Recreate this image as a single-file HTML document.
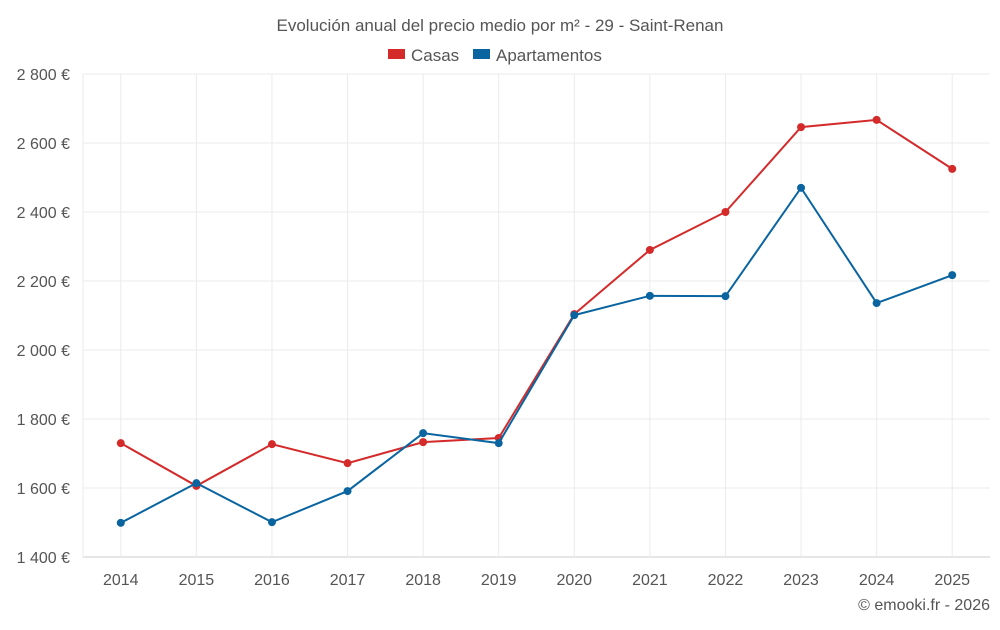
<!DOCTYPE html>
<html><head><meta charset="utf-8"><style>
body{margin:0;background:#fff;font-family:"Liberation Sans",sans-serif;}
svg text{font-family:"Liberation Sans",sans-serif;}
</style></head><body>
<svg id="c" width="1000" height="625">
<text x="500" y="31" text-anchor="middle" font-size="17" fill="#555">Evolución anual del precio medio por m² - 29 - Saint-Renan</text>
<g>
<g><rect x="388" y="49" width="17" height="10" fill="#d42a2a"/><text x="411" y="61" font-size="17" fill="#555">Casas</text></g>
<g><rect x="473" y="49" width="17" height="10" fill="#0a64a0"/><text x="496" y="61" font-size="17" fill="#555">Apartamentos</text></g>
</g>
<g id="grid"></g><g id="axes"></g><g id="series"></g>
<text x="990" y="610" text-anchor="end" font-size="16" fill="#555">© emooki.fr - 2026</text>
</svg>
<script>
const years=["2014","2015","2016","2017","2018","2019","2020","2021","2022","2023","2024","2025"];
const casas=[1730,1606,1727,1672,1733,1745,2104,2290,2400,2646,2667,2525];
const apartamentos=[1499,1614,1501,1591,1759,1730,2101,2157,2156,2470,2136,2217];
const yTicks=[1400,1600,1800,2000,2200,2400,2600,2800];
const yLabels=["1 400 €","1 600 €","1 800 €","2 000 €","2 200 €","2 400 €","2 600 €","2 800 €"];
const NS="http://www.w3.org/2000/svg";
const L=83,R=990,T=74,B=557,ymin=1400,ymax=2800;
const bw=(R-L)/years.length;
const x=i=>L+bw*(i+0.5);
const y=v=>B-(v-ymin)/(ymax-ymin)*(B-T);
function mk(t,a,p){const e=document.createElementNS(NS,t);for(const k in a)e.setAttribute(k,a[k]);p.appendChild(e);return e;}
const g=document.getElementById('grid'),ax=document.getElementById('axes'),s=document.getElementById('series');
yTicks.forEach((v,i)=>{
 const ln=mk('line',{x1:L,x2:R,y1:y(v),y2:y(v),stroke:i==0?'#ccc':'#ebebeb'},g);
 
 
 const t=mk('text',{x:70,y:y(v)+6,'text-anchor':'end','font-size':16,fill:'#555'},ax);
 t.textContent=yLabels[i];
 
 
});
years.forEach((yr,i)=>{
 const ln=mk('line',{x1:x(i),x2:x(i),y1:T,y2:B,stroke:'#ebebeb'},g);
 
 
 const t=mk('text',{x:x(i),y:585,'text-anchor':'middle','font-size':16,fill:'#555'},ax);
 t.textContent=yr;
 
 
});
mk('line',{x1:L,x2:L,y1:T,y2:B,stroke:'#ebebeb'},g);
function draw(d,c,n){
 const p=mk('polyline',{points:d.map((v,i)=>x(i)+','+y(v)).join(' '),fill:'none',stroke:c,'stroke-width':2},s);
 
 
 d.forEach((v,i)=>{const m=mk('circle',{cx:x(i),cy:y(v),r:4,fill:c},s);
 
 });
}
draw(casas,'#d42a2a','casas');
draw(apartamentos,'#0a64a0','apartamentos');
</script>
</body></html>
